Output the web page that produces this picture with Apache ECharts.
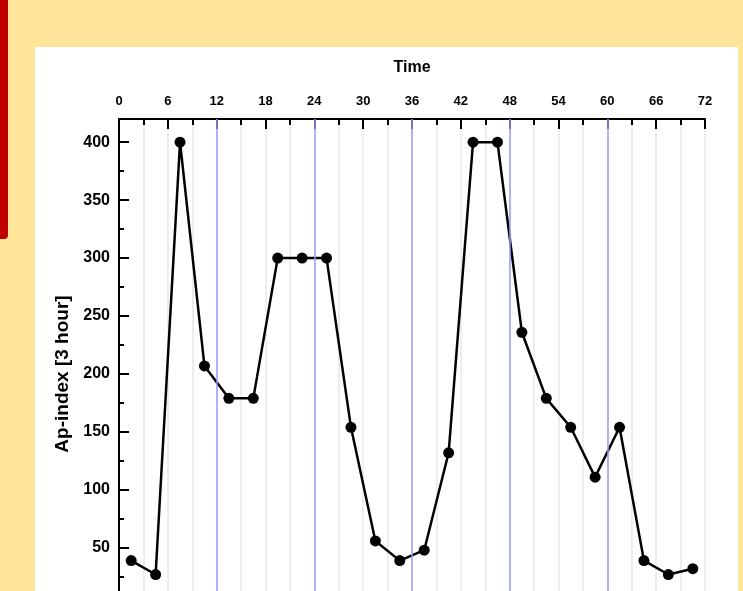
<!DOCTYPE html>
<html>
<head>
<meta charset="utf-8">
<title>Ap-index [3 hour]</title>
<script src="https://cdn.jsdelivr.net/npm/echarts@6/dist/echarts.min.js"></script>
<style>
  html, body { margin: 0; padding: 0; width: 743px; height: 591px; overflow: hidden; background: #FFE599; }
  #accent { position: absolute; left: 0; top: 0; width: 8px; height: 239px; background: #C00000; border-bottom-right-radius: 4px; }
  #panel { position: absolute; left: 35px; top: 47px; width: 703px; height: 600px; background: #ffffff; }
  /* the plot continues below the visible window */
  #chart { position: absolute; left: 0; top: 0; width: 743px; height: 650px; }
</style>
</head>
<body>
<div id="accent"></div>
<div id="panel"></div>
<div id="chart"></div>
<script>
// 3-hour Ap-index, plotted at the middle of each 3-hour interval
const hours = [1.5, 4.5, 7.5, 10.5, 13.5, 16.5, 19.5, 22.5, 25.5, 28.5, 31.5, 34.5,
               37.5, 40.5, 43.5, 46.5, 49.5, 52.5, 55.5, 58.5, 61.5, 64.5, 67.5, 70.5];
const apIndex = [39, 27, 400, 207, 179, 179, 300, 300, 300, 154, 56, 39,
                 48, 132, 400, 400, 236, 179, 154, 111, 154, 39, 27, 32];

// Axis ticks
const timeTicks = [0, 6, 12, 18, 24, 30, 36, 42, 48, 54, 60, 66, 72];
const apTicks = [0, 50, 100, 150, 200, 250, 300, 350, 400];
const apMinorTicks = [25, 75, 125, 175, 225, 275, 325, 375];
const apRange = [-20, 420];

// Day boundaries (every 12 h) highlighted in blue
const dayMarks = [12, 24, 36, 48, 60];

const FONT = '"Liberation Sans", Arial, sans-serif';
const chart = echarts.init(document.getElementById('chart'), null, { renderer: 'canvas' });

chart.setOption({
  animation: false,
  backgroundColor: 'transparent',
  textStyle: { fontFamily: FONT },
  grid: { left: 119, right: 38, top: 119, bottom: 21, containLabel: false },
  xAxis: {
    type: 'value',
    position: 'top',
    min: timeTicks[0],
    max: timeTicks[timeTicks.length - 1],
    interval: timeTicks[1] - timeTicks[0],
    name: 'Time',
    nameLocation: 'middle',
    nameGap: 43,
    nameTextStyle: { fontSize: 16, fontWeight: 'bold', color: '#000' },
    axisLine: { show: true, onZero: false, lineStyle: { color: '#000', width: 2 } },
    axisTick: { show: true, inside: true, length: 10, lineStyle: { color: '#000', width: 2 } },
    minorTick: { show: true, splitNumber: 2, length: 6, lineStyle: { color: '#000', width: 2 } },
    axisLabel: { fontSize: 13, fontWeight: 'bold', color: '#000', margin: 11 },
    splitLine: { show: true, lineStyle: { color: '#e8e8e8', width: 1.5 } },
    minorSplitLine: { show: true, lineStyle: { color: '#e8e8e8', width: 1.5 } }
  },
  yAxis: [
    {
      type: 'value',
      position: 'left',
      min: apRange[0],
      max: apRange[1],
      name: 'Ap-index [3 hour]',
      nameLocation: 'middle',
      nameGap: 45,
      nameRotate: 90,
      nameTextStyle: { fontSize: 19, fontWeight: 'bold', color: '#000' },
      axisLine: { show: true, onZero: false, lineStyle: { color: '#000', width: 2 } },
      axisTick: { show: true, inside: true, length: 10, customValues: apTicks, lineStyle: { color: '#000', width: 2 } },
      axisLabel: { customValues: apTicks, fontSize: 16, fontWeight: 'bold', color: '#000', margin: 9 },
      splitLine: { show: false }
    },
    {
      type: 'value',
      position: 'left',
      min: apRange[0],
      max: apRange[1],
      axisLine: { show: false, onZero: false },
      axisTick: { show: true, inside: true, length: 5, customValues: apMinorTicks, lineStyle: { color: '#000', width: 2 } },
      axisLabel: { show: false },
      splitLine: { show: false }
    }
  ],
  series: [
    {
      name: 'day boundaries',
      type: 'line',
      data: [],
      z: 1,
      silent: true,
      markLine: {
        silent: true,
        symbol: ['none', 'none'],
        label: { show: false },
        lineStyle: { color: '#9c9cff', width: 1.5, type: 'solid' },
        data: dayMarks.map(function (h) { return { xAxis: h }; })
      }
    },
    {
      name: 'Ap-index',
      type: 'line',
      z: 3,
      data: hours.map(function (h, i) { return [h, apIndex[i]]; }),
      symbol: 'circle',
      symbolSize: 11,
      itemStyle: { color: '#000' },
      lineStyle: { color: '#000', width: 2.5 }
    }
  ]
});
</script>
</body>
</html>
